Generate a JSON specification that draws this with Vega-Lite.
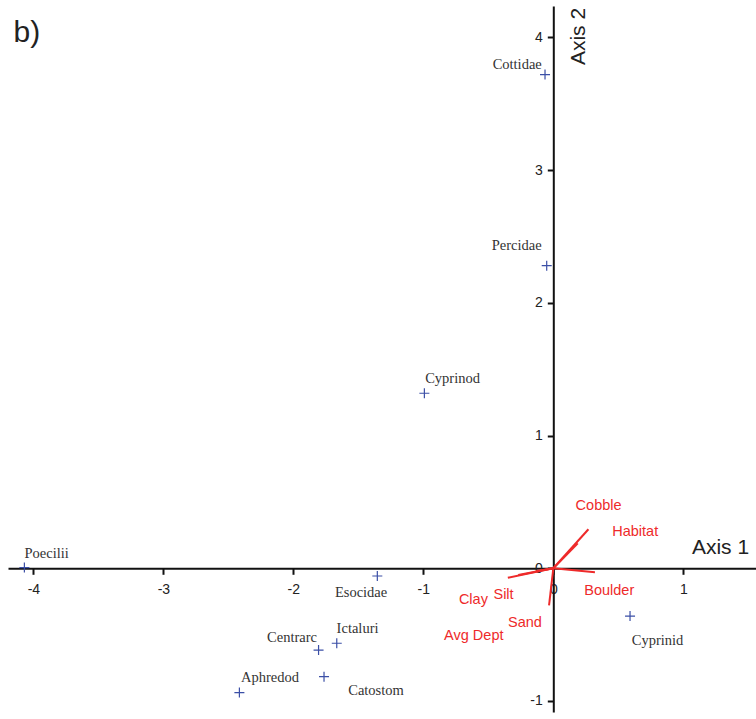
{
  "$schema": "https://vega.github.io/schema/vega-lite/v6.json",
  "autosize": {"type": "none"},
  "padding": {"left": 8, "top": 6, "right": 0, "bottom": 7},
  "width": 748,
  "height": 706,
  "background": "white",
  "config": {
    "view": {"stroke": null},
    "axis": {
      "grid": false,
      "labelExpr": "toString(datum.value)",
      "domainColor": "#111111",
      "domainWidth": 2,
      "tickColor": "#111111",
      "tickWidth": 2,
      "tickSize": 6,
      "labelFont": "Liberation Sans",
      "labelFontSize": 14,
      "labelColor": "#222222",
      "titleFont": "Liberation Sans",
      "titleFontSize": 21,
      "titleFontWeight": "normal",
      "titleColor": "#222222"
    }
  },
  "datasets": {
    "taxa": [
      {"taxon": "Cottidae", "axis1": -0.064, "axis2": 3.72, "label_x": -0.278, "label_y": 3.793},
      {"taxon": "Percidae", "axis1": -0.051, "axis2": 2.28, "label_x": -0.282, "label_y": 2.429},
      {"taxon": "Cyprinod", "axis1": -0.992, "axis2": 1.319, "label_x": -0.775, "label_y": 1.427},
      {"taxon": "Poecilii", "axis1": -4.069, "axis2": 0.005, "label_x": -3.898, "label_y": 0.108},
      {"taxon": "Esocidae", "axis1": -1.354, "axis2": -0.058, "label_x": -1.479, "label_y": -0.184},
      {"taxon": "Ictaluri", "axis1": -1.666, "axis2": -0.565, "label_x": -1.506, "label_y": -0.457},
      {"taxon": "Centrarc", "axis1": -1.806, "axis2": -0.616, "label_x": -2.01, "label_y": -0.525},
      {"taxon": "Catostom", "axis1": -1.764, "axis2": -0.817, "label_x": -1.364, "label_y": -0.922},
      {"taxon": "Aphredod", "axis1": -2.415, "axis2": -0.937, "label_x": -2.179, "label_y": -0.827},
      {"taxon": "Cyprinid", "axis1": 0.59, "axis2": -0.36, "label_x": 0.802, "label_y": -0.548}
    ],
    "habitat_vectors": [
      {"variable": "Cobble", "axis1": 0.27, "axis2": 0.294, "label_x": 0.348, "label_y": 0.469},
      {"variable": "Habitat", "axis1": 0.188, "axis2": 0.188, "label_x": 0.63, "label_y": 0.271},
      {"variable": "Boulder", "axis1": 0.32, "axis2": -0.03, "label_x": 0.43, "label_y": -0.171},
      {"variable": "Silt", "axis1": -0.35, "axis2": -0.071, "label_x": -0.383, "label_y": -0.201},
      {"variable": "Clay", "axis1": -0.27, "axis2": -0.05, "label_x": -0.615, "label_y": -0.239},
      {"variable": "Sand", "axis1": -0.033, "axis2": -0.28, "label_x": -0.218, "label_y": -0.414},
      {"variable": "Avg Dept", "axis1": -0.13, "axis2": -0.02, "label_x": -0.612, "label_y": -0.51}
    ]
  },
  "layer": [
    {
      "data": {"name": "taxa"},
      "mark": {"type": "point", "shape": "M-1,0L1,0M0,-1L0,1", "size": 100, "filled": false, "stroke": "#3b4fa6", "strokeWidth": 1.2, "opacity": 1},
      "encoding": {
        "x": {
          "field": "axis1",
          "type": "quantitative",
          "scale": {"domain": [-4.195, 1.559], "nice": false, "zero": false},
          "axis": {
            "title": "Axis 1",
            "orient": "bottom",
            "offset": -143.7,
            "values": [-4, -3, -2, -1, 0, 1],
            "labelPadding": 8,
            "titleX": 712,
            "titleY": -21,
            "titleAlign": "center",
            "titleBaseline": "middle"
          }
        },
        "y": {
          "field": "axis2",
          "type": "quantitative",
          "scale": {"domain": [-1.083, 4.237], "nice": false, "zero": false},
          "axis": {
            "title": "Axis 2",
            "orient": "left",
            "offset": -545.3,
            "values": [-1, 0, 1, 2, 3, 4],
            "labelPadding": 5,
            "titleAngle": -90,
            "titleX": 25,
            "titleY": 30,
            "titleAlign": "center",
            "titleBaseline": "middle"
          }
        }
      }
    },
    {
      "data": {"name": "taxa"},
      "mark": {"type": "text", "font": "Liberation Serif", "fontSize": 14.5, "color": "#333333", "align": "center", "baseline": "middle"},
      "encoding": {
        "x": {"field": "label_x", "type": "quantitative"},
        "y": {"field": "label_y", "type": "quantitative"},
        "text": {"field": "taxon", "type": "nominal"}
      }
    },
    {
      "data": {"name": "habitat_vectors"},
      "mark": {"type": "rule", "color": "#ee2a2a", "strokeWidth": 2},
      "encoding": {
        "x": {"field": "axis1", "type": "quantitative"},
        "y": {"field": "axis2", "type": "quantitative"},
        "x2": {"datum": 0},
        "y2": {"datum": 0}
      }
    },
    {
      "data": {"name": "habitat_vectors"},
      "mark": {"type": "text", "font": "Liberation Sans", "fontSize": 14.5, "color": "#ee2a2a", "align": "center", "baseline": "middle"},
      "encoding": {
        "x": {"field": "label_x", "type": "quantitative"},
        "y": {"field": "label_y", "type": "quantitative"},
        "text": {"field": "variable", "type": "nominal"}
      }
    },
    {
      "data": {"values": [{"panel": "b)", "x": -4.152, "y": 3.964}]},
      "mark": {"type": "text", "font": "Liberation Sans", "fontSize": 30, "color": "#222222", "align": "left", "baseline": "alphabetic"},
      "encoding": {
        "x": {"field": "x", "type": "quantitative"},
        "y": {"field": "y", "type": "quantitative"},
        "text": {"field": "panel", "type": "nominal"}
      }
    }
  ]
}
